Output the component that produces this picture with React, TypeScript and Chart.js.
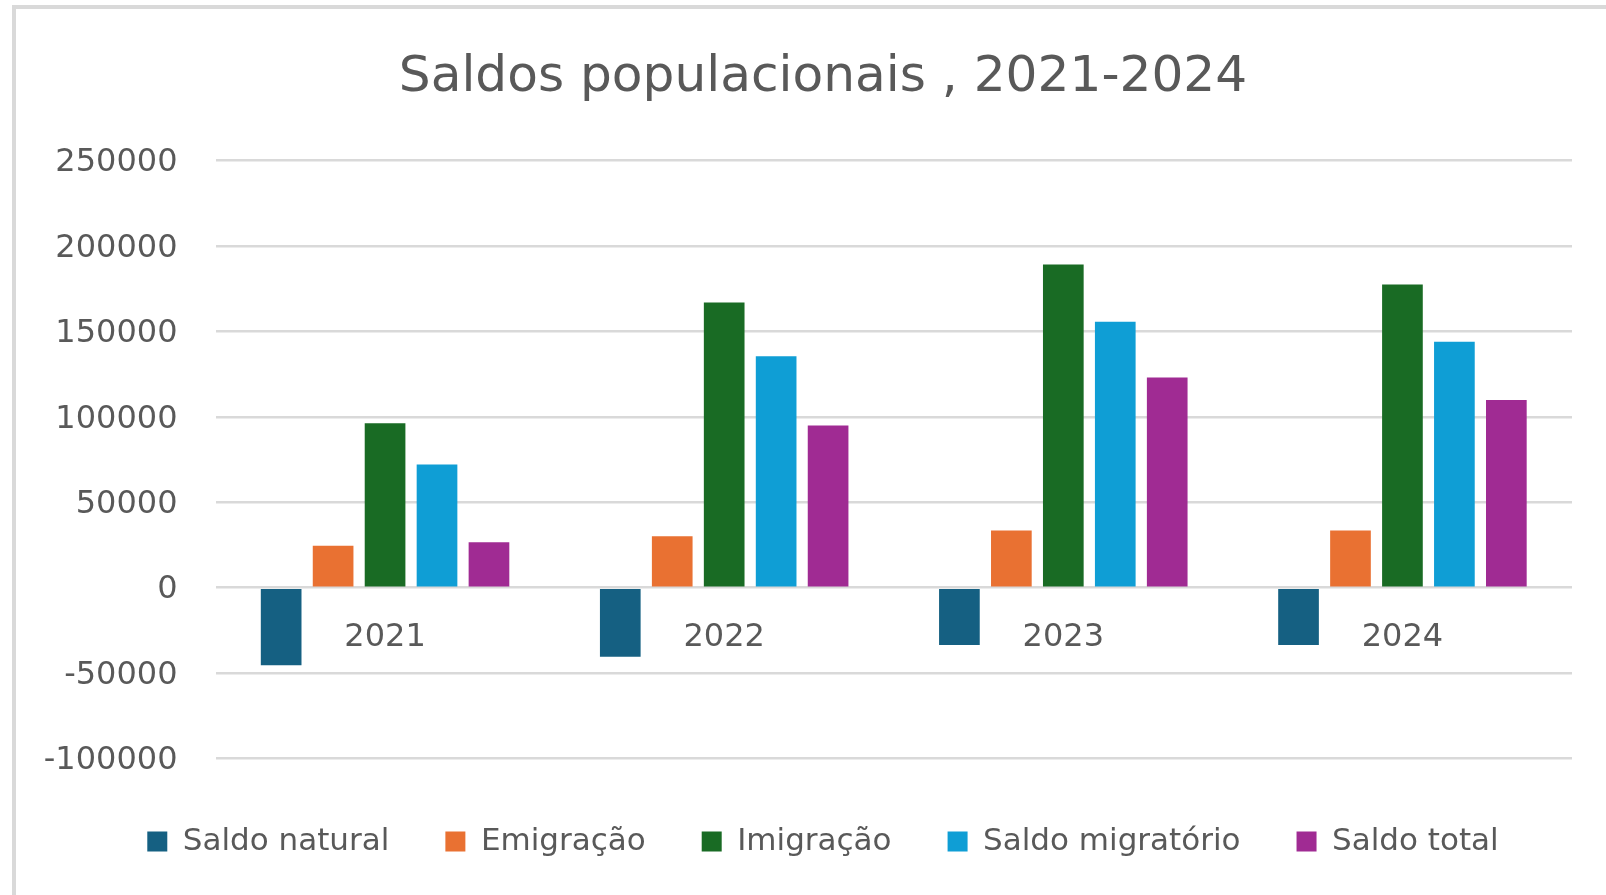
import React, { useEffect, useRef } from 'react';
import { Chart, registerables } from 'chart.js';

Chart.register(...registerables);

const chartTitle = 'Saldos populacionais , 2021-2024';
const categories = ['2021', '2022', '2023', '2024'];
const seriesNames = ['Saldo natural', 'Emigração', 'Imigração', 'Saldo migratório', 'Saldo total'];
const seriesColors = ['#156082', '#E97132', '#196B24', '#0F9ED5', '#A02B93'];
const saldoNatural = [-45400, -40500, -33600, -33600];
const emigracao = [24500, 30100, 33500, 33500];
const imigracao = [96300, 166900, 189200, 177500];
const saldoMigratorio = [72100, 135500, 155600, 143900];
const saldoTotal = [26600, 94900, 123000, 109900];
const yTickValues = [-100000, -50000, 0, 50000, 100000, 150000, 200000, 250000];

const W = 1606;
const H = 895;
const FONT = "'DejaVu Sans', sans-serif";
const TEXT = '#595959';

export default function App() {
  const ref = useRef<HTMLCanvasElement | null>(null);

  useEffect(() => {
    if (!ref.current) return;
    const seriesValues = [saldoNatural, emigracao, imigracao, saldoMigratorio, saldoTotal];
    const chart = new Chart(ref.current, {
      type: 'bar',
      data: {
        labels: categories,
        datasets: seriesNames.map((name, i) => ({
          label: name,
          data: seriesValues[i],
          backgroundColor: seriesColors[i],
          borderColor: seriesColors[i],
          borderWidth: 0,
          categoryPercentage: 0.766,
          barPercentage: 0.783,
        })),
      },
      options: {
        animation: false,
        responsive: false,
        maintainAspectRatio: false,
        devicePixelRatio: 1,
        layout: { padding: { top: 0, left: 74, right: 34, bottom: 28 } },
        plugins: {
          title: {
            display: true,
            text: chartTitle,
            color: TEXT,
            font: { family: FONT, size: 50.2, weight: 'normal', lineHeight: 1.2 },
            padding: { top: 47.9, bottom: 52.4 },
          },
          legend: {
            position: 'bottom',
            labels: {
              boxWidth: 20,
              boxHeight: 20,
              padding: 56,
              color: TEXT,
              font: { family: FONT, size: 31 },
            },
            title: { display: true, text: '', padding: 0, font: { family: FONT, size: 11.5, lineHeight: 1 } },
          },
          tooltip: { enabled: false },
        },
        scales: {
          x: {
            position: { y: 0 } as any,
            grid: { display: false, drawTicks: false },
            border: { display: false },
            ticks: { padding: 30.7, color: TEXT, font: { family: FONT, size: 32 } },
          },
          y: {
            min: -100000,
            max: 250000,
            afterBuildTicks: (scale: any) => {
              scale.ticks = yTickValues.map((v) => ({ value: v }));
            },
            afterFit: (scale: any) => {
              scale.width = 141.5;
              scale._computeLabelArea = () => undefined;
            },
            grid: { color: '#d9d9d9', lineWidth: 2.5, drawTicks: false },
            border: { display: false },
            ticks: {
              padding: 38,
              labelOffset: 2.5,
              color: TEXT,
              font: { family: FONT, size: 32 },
              callback: (v: any) => String(v),
            },
          },
        },
      },
    });
    return () => chart.destroy();
  }, []);

  return (
    <div style={{ position: 'fixed', left: 0, top: 0, width: W, height: H, overflow: 'hidden', background: '#ffffff' }}>
      <div
        style={{
          position: 'absolute',
          left: 12,
          top: 5,
          right: -20,
          bottom: -20,
          borderLeft: '4px solid #d9d9d9',
          borderTop: '4px solid #d9d9d9',
        }}
      />
      <canvas ref={ref} width={W} height={H} style={{ position: 'absolute', left: 0, top: 0, width: W, height: H }} />
    </div>
  );
}
